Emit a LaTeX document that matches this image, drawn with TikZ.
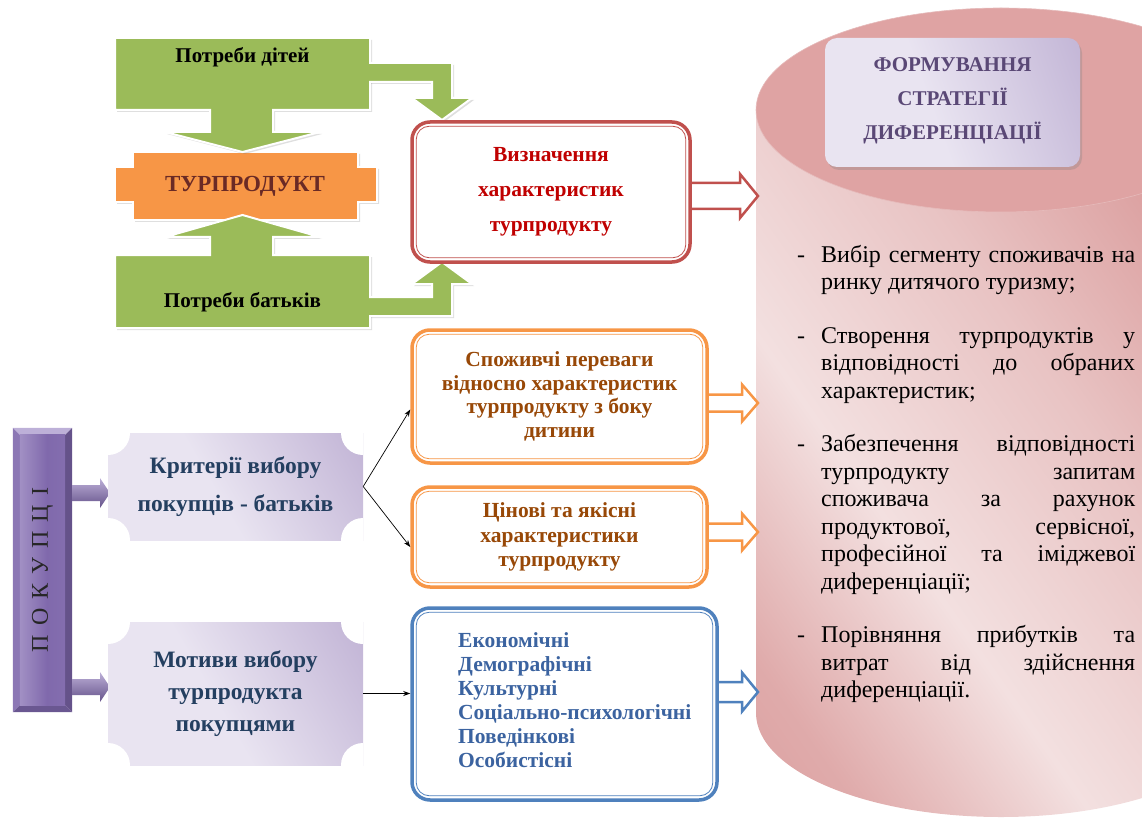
\documentclass[tikz,border=0pt]{standalone}
\usepackage{fontspec}
\setmainfont{Liberation Serif}
\usepackage{graphicx}
\usepackage{xcolor}
\definecolor{leaf}{HTML}{9BBB59}
\definecolor{tang}{HTML}{F79646}
\definecolor{brick}{HTML}{C0504D}
\definecolor{sky}{HTML}{4F81BD}
\definecolor{wine}{HTML}{C00000}
\definecolor{rust}{HTML}{984807}
\definecolor{navy}{HTML}{3B63A0}
\definecolor{ink}{HTML}{243F60}
\definecolor{plum}{HTML}{5A4876}
\definecolor{clay}{HTML}{6A2A25}
\definecolor{lilaclt}{HTML}{E9E4F1}
\definecolor{lilacdk}{HTML}{B1A0CA}
\definecolor{amethyst}{HTML}{8069AC}
\definecolor{amethystlt}{HTML}{BDB0D8}
\definecolor{amethystdk}{HTML}{65528A}
\definecolor{rosetop}{HTML}{DFA3A3}
\definecolor{rosedk}{HTML}{D58E8E}
\definecolor{roselt}{HTML}{F3E0E0}
\usepackage{tikz}
\usetikzlibrary{arrows.meta,positioning,calc,shadows,backgrounds}

\pgfdeclarehorizontalshading{lilac}{100bp}{color(0bp)=(lilaclt); color(45bp)=(lilaclt); color(100bp)=(lilacdk)}
\pgfdeclarehorizontalshading{cylbody}{100bp}{color(0bp)=(rosedk); color(23bp)=(rosedk!65!roselt); color(39bp)=(roselt); color(58bp)=(rosedk!35!roselt); color(75bp)=(rosedk!80!roselt); color(100bp)=(rosedk)}
\pgfdeclarehorizontalshading{barpanel}{100bp}{color(0bp)=(amethystlt); color(55bp)=(amethyst); color(100bp)=(amethyst!85!amethystlt)}

\newcommand{\fullrow}[1]{\makebox[314pt][s]{#1}}
\newcommand{\firstrow}[1]{\makebox[24pt][l]{-}\fullrow{#1}}
\newcommand{\lastrow}[1]{\hspace*{24pt}#1}
\newcommand{\gap}{\hspace{9pt}}

\begin{document}
\begin{tikzpicture}[x=1pt, y=-1pt, inner sep=0pt,
  greenpart/.style={fill=leaf, draw=white, line width=2pt,
    drop shadow={opacity=0.25, shadow xshift=2pt, shadow yshift=-2pt}},
  prodpart/.style={fill=tang, draw=white, line width=2pt,
    drop shadow={opacity=0.25, shadow xshift=2pt, shadow yshift=-2pt}},
  needtext/.style={font=\bfseries\fontsize{21}{25}\selectfont},
  dblbox/.style={draw=#1, line width=3.5pt, rounded corners=18pt, fill=white, align=center},
  hollow/.style={draw=#1, fill=white, line width=2.5pt},
  plaque/.style={shade, shading=lilac, shading angle=30, minimum width=255pt,
    align=center, text=ink,
    path picture={\foreach \c in {north west,north east,south west,south east}
      \fill[white] (path picture bounding box.\c) circle[radius=22pt];}},
  link/.style={-{Stealth[length=7pt, width=5pt]}, line width=0.7pt},
]
  \useasboundingbox (0,0) rectangle (1142,818);

  % Cylinder
  \begin{scope}
    \clip (0,0) rectangle (1142,818);
    \shade[shading=cylbody, shading angle=35] (756,110) -- (756,713)
      arc[start angle=180, end angle=0, x radius=245, y radius=104] -- (1246,110) -- cycle;
    \fill[rosetop, draw=rosedk!60, line width=0.6pt] (1001,110) ellipse[x radius=245, y radius=102];
  \end{scope}
  \node[shade, shading=lilac, shading angle=20, rounded corners=12pt,
    minimum width=255pt, minimum height=129pt, align=center, text=plum,
    font=\bfseries\fontsize{21}{34}\selectfont,
    drop shadow={opacity=0.3, shadow xshift=2pt, shadow yshift=-3pt}]
    (goal) at (952.5,102.5) {ФОРМУВАННЯ\\СТРАТЕГІЇ\\ДИФЕРЕНЦІАЦІЇ\\[-27pt]\mbox{}};
  \node[anchor=north west, align=left, font=\fontsize{24}{27.5}\selectfont]
    (tasks) at (797,245) {%
    \firstrow{Вибір сегменту споживачів на}\\
    \lastrow{ринку дитячого туризму;}\\[26pt]
    \firstrow{Створення турпродуктів у}\\
    \lastrow{\fullrow{відповідності до обраних}}\\
    \lastrow{характеристик;}\\[26pt]
    \firstrow{Забезпечення відповідності}\\
    \lastrow{\fullrow{турпродукту запитам}}\\
    \lastrow{\fullrow{споживача за рахунок}}\\
    \lastrow{\fullrow{продуктової, сервісної,}}\\
    \lastrow{\fullrow{професійної та іміджевої}}\\
    \lastrow{диференціації;}\\[26pt]
    \firstrow{Порівняння прибутків та}\\
    \lastrow{\fullrow{витрат від здійснення}}\\
    \lastrow{диференціації.}};

  % Tour product and needs
  \draw[prodpart] (133,152) -- (358,152) -- (358,167) -- (377,167) -- (377,202) -- (358,202)
    -- (358,220) -- (133,220) -- (133,202) -- (115,202) -- (115,167) -- (133,167) -- cycle;
  \draw[greenpart] (115,38) -- (370,38) -- (370,110) -- (273,110) -- (273,132) -- (320,132)
    -- (242.5,152) -- (165,132) -- (210,132) -- (210,110) -- (115,110) -- cycle;
  \draw[greenpart] (115,328) -- (370,328) -- (370,255) -- (273,255) -- (273,237) -- (320,237)
    -- (242.5,215) -- (165,237) -- (210,237) -- (210,255) -- (115,255) -- cycle;
  \draw[greenpart] (369,63) -- (452,63) -- (452,98) -- (472,98) -- (442,120) -- (412,98)
    -- (432,98) -- (432,82) -- (369,82);
  \draw[greenpart] (369,316) -- (452,316) -- (452,284) -- (472,284) -- (442,262) -- (412,284)
    -- (432,284) -- (432,297) -- (369,297);
  \node[needtext] (kids) at (242.5,57) {Потреби дітей};
  \node[needtext] (parents) at (242.5,302) {Потреби батьків};
  \node[font=\bfseries\fontsize{23}{27}\selectfont, text=clay] (product) at (245,186) {ТУРПРОДУКТ};

  % Middle column
  \node[dblbox=brick, minimum width=278pt, minimum height=140pt, text=wine,
    font=\bfseries\fontsize{21.5}{35}\selectfont]
    (defn) at (551,192) {Визначення\\характеристик\\турпродукту\\[-29pt]\mbox{}};
  \node[dblbox=tang, minimum width=295pt, minimum height=133pt, text=rust,
    font=\bfseries\fontsize{21.5}{23.5}\selectfont]
    (pref) at (559.5,396.5) {Споживчі переваги\\відносно характеристик\\турпродукту з боку\\дитини};
  \node[dblbox=tang, minimum width=295pt, minimum height=100pt, text=rust,
    font=\bfseries\fontsize{21.5}{24.5}\selectfont]
    (price) at (559.5,537) {Цінові та якісні\\характеристики\\турпродукту};
  \node[dblbox=sky, minimum width=305pt, minimum height=192pt] (factors) at (564.5,704) {};
  \node[anchor=west, align=left, text=navy, font=\bfseries\fontsize{21.5}{24}\selectfont]
    (factorlist) at (458,700)
    {Економічні\\Демографічні\\Культурні\\Соціально-психологічні\\Поведінкові\\Особистісні};
  \foreach \n/\c in {defn/brick, pref/tang, price/tang, factors/sky}
    \draw[\c, line width=0.8pt, rounded corners=13pt]
      ($(\n.north west)+(6,6)$) rectangle ($(\n.south east)+(-6,-6)$);

  % Hollow arrows into the cylinder
  \draw[hollow=brick] (692,183) -- (740,183) -- (740,174) -- (758,196) -- (740,218) -- (740,209) -- (692,209);
  \draw[hollow=tang] (709,394.5) -- (742,394.5) -- (742,384.5) -- (758,403) -- (742,421.5) -- (742,411.5) -- (709,411.5);
  \draw[hollow=tang] (709,523.5) -- (742,523.5) -- (742,513.5) -- (758,532) -- (742,550.5) -- (742,540.5) -- (709,540.5);
  \draw[hollow=sky] (719,682) -- (742,682) -- (742,672.5) -- (758,692) -- (742,711.5) -- (742,702) -- (719,702);

  % Buyers
  \node[minimum width=59pt, minimum height=284pt, text=black!85,
    font=\fontsize{24}{28}\selectfont]
    (buyers) at (42.5,570) {\rotatebox{90}{П\gap О\gap К\gap У\gap П\gap Ц\gap І}};
  \begin{scope}[on background layer]
    \fill[amethystlt] (buyers.north west) -- (buyers.north east) -- ($(buyers.north east)+(-7,7)$)
      -- ($(buyers.north west)+(7,7)$) -- cycle;
    \fill[amethyst!80!amethystlt] (buyers.north west) -- ($(buyers.north west)+(7,7)$)
      -- ($(buyers.south west)+(7,-7)$) -- (buyers.south west) -- cycle;
    \fill[amethystdk] (buyers.north east) -- (buyers.south east) -- ($(buyers.south east)+(-7,-7)$)
      -- ($(buyers.north east)+(-7,7)$) -- cycle;
    \fill[amethystdk!80!amethyst] (buyers.south west) -- (buyers.south east)
      -- ($(buyers.south east)+(-7,-7)$) -- ($(buyers.south west)+(7,-7)$) -- cycle;
    \shade[shading=barpanel] ($(buyers.north west)+(7,7)$) rectangle ($(buyers.south east)+(-7,-7)$);
  \end{scope}
  \shade[top color=amethystlt, bottom color=amethystdk] (72,485) -- (100,485) -- (100,478)
    -- (110,493) -- (100,508) -- (100,501) -- (72,501) -- cycle;
  \shade[top color=amethystlt, bottom color=amethystdk] (72,679) -- (100,679) -- (100,672)
    -- (110,687) -- (100,702) -- (100,695) -- (72,695) -- cycle;
  \node[plaque, minimum height=107pt, font=\bfseries\fontsize{23.5}{38}\selectfont]
    (crit) at (235.5,486.5) {Критерії вибору\\покупців - батьків};
  \node[plaque, minimum height=143pt, font=\bfseries\fontsize{23.5}{32}\selectfont]
    (motive) at (235.5,693.5) {Мотиви вибору\\турпродукта\\покупцями};

  % Links
  \draw[link] (crit.east) -- ($(pref.west)+(0,13)$);
  \draw[link] (crit.east) -- ($(price.west)+(0,10)$);
  \draw[link] (motive.east) -- (motive.east -| factors.west);
\end{tikzpicture}
\end{document}
